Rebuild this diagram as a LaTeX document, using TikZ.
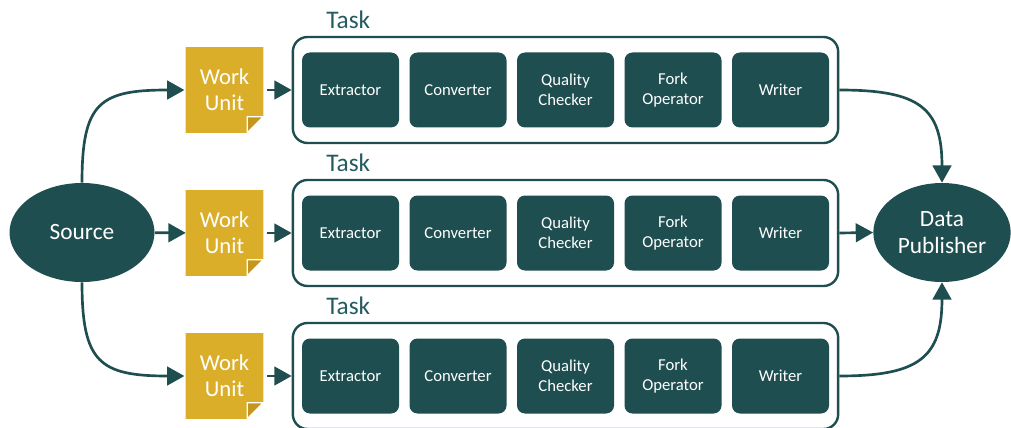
\documentclass[tikz,border=0pt]{standalone}
\usepackage{fontspec}
\setmainfont{Carlito}
\usetikzlibrary{shapes.geometric,arrows.meta}
\definecolor{teal}{RGB}{31,78,80}
\definecolor{tealtext}{RGB}{36,92,96}
\definecolor{gold}{RGB}{219,174,42}
\definecolor{golddark}{RGB}{196,150,28}
\tikzset{
  stagebox/.style={fill=teal, rounded corners=6pt, minimum width=72.75pt, minimum height=56.25pt,
    text=white, font=\fontsize{12.5}{15}\selectfont, align=center, inner sep=0pt},
  taskbox/.style={draw=teal, line width=1.8pt, fill=white, rounded corners=11pt,
    minimum width=409pt, minimum height=79.5pt, inner sep=0pt},
  tasklabel/.style={anchor=west, text=tealtext, font=\fontsize{19}{20}\selectfont, inner sep=0pt},
  workunit/.style={minimum width=57.75pt, minimum height=63.75pt, inner sep=0pt,
    text=white, font=\fontsize{17}{19.5}\selectfont, align=center},
  endpoint/.style={ellipse, fill=teal, text=white, inner sep=0pt,
    font=\fontsize{17.5}{20}\selectfont, align=center},
  arr/.style={draw=teal, line width=2pt, -{Triangle[length=13pt,width=14pt]}},
}
\begin{document}
\begin{tikzpicture}[x=0.75pt,y=-0.75pt]
\useasboundingbox (0,0) rectangle (1011,428);

% source and sink
\node[endpoint, minimum width=108.75pt, minimum height=74.25pt] (src) at (82,232.5) {Source};
\node[endpoint, minimum width=103pt, minimum height=74.25pt] (dp) at (942,232.5) {Data\\Publisher};

\foreach \r/\y in {1/90,2/233,3/376}{
  % task container with its five stages
  \node[taskbox] (t\r) at (565.5,\y) {};
  \node[tasklabel] (tl\r) at (326,\y-70) {Task};
  \node[stagebox] (ex\r) at (350.5,\y) {Extractor};
  \node[stagebox] (cv\r) at (458,\y) {Converter};
  \node[stagebox] (qc\r) at (565.5,\y) {Quality\\Checker};
  \node[stagebox] (fo\r) at (673,\y) {Fork\\Operator};
  \node[stagebox] (wr\r) at (780.5,\y) {Writer};
  % work unit sheet with a folded corner
  \node[workunit] (wu\r) at (224.5,\y) {};
  \fill[gold] (wu\r.north west) -- (wu\r.north east) -- ([yshift=12pt]wu\r.south east)
    -- ([xshift=-12pt]wu\r.south east) -- (wu\r.south west) -- cycle;
  \filldraw[fill=golddark, draw=white, line width=1pt, line join=miter]
    ([xshift=-12pt,yshift=12pt]wu\r.south east) -- ([yshift=12pt]wu\r.south east)
    -- ([xshift=-12pt]wu\r.south east) -- cycle;
  \node[workunit] at (wu\r) {Work\\Unit};
  \draw[arr] ([xshift=3pt]wu\r.east) -- (t\r.west);
}

% connectors
\draw[arr] (src) -- (wu2);
\draw[arr] (src.north) .. controls +(0,-80) and +(-85,0) .. ([xshift=-1pt]wu1.west);
\draw[arr] (src.south) .. controls +(0,80) and +(-85,0) .. ([xshift=-1pt]wu3.west);
\draw[arr] (t2.east) -- (dp.west);
\draw[arr] (t1.east) .. controls +(80,0) and +(0,-75) .. (dp.north);
\draw[arr] (t3.east) .. controls +(80,0) and +(0,75) .. (dp.south);
\end{tikzpicture}
\end{document}
